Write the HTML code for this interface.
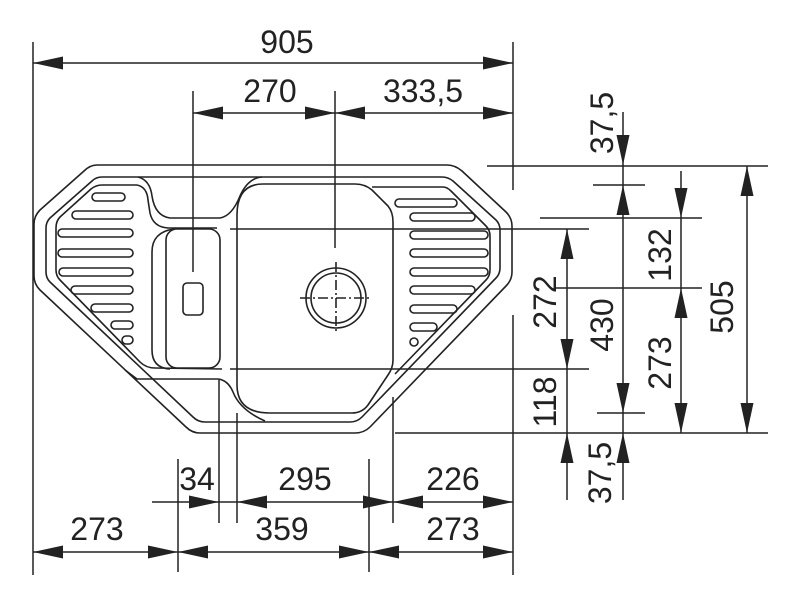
<!DOCTYPE html>
<html><head><meta charset="utf-8"><style>
html,body{margin:0;padding:0;background:#fff;}
svg{display:block;}
text{font-family:"Liberation Sans",Arial,sans-serif;font-size:32px;fill:#222;}
</style></head><body>
<svg width="793" height="600" viewBox="0 0 793 600" xmlns="http://www.w3.org/2000/svg">
<g fill="none" stroke="#222" stroke-width="1.6" stroke-linejoin="round">
<path d="M97,165 L447,165 Q455,165 462,171 L506,212 Q512,218 512,226 L512,272 Q512,280 506,286 L370,427 Q364,433 355,433 L200,433 Q192,433 186,427 L40,290 Q34,284 34,276 L34,224 Q34,216 40,210 L84,171 Q90,165 97,165 Z"/>
<path d="M102,177 L442,177 Q448,177 453,181 L496,220 Q500,224 500,230 L500,268 Q500,274 496,278 L362,417 Q357,422 350,422 L205,422 Q198,422 193,417 L50,282 Q46,278 46,272 L46,228 Q46,222 50,218 L92,181 Q96,177 102,177 Z"/>
<path d="M138,177 Q150,180 152,196 Q155,216 170,218 L220,218 Q232,216 240,196 Q248,178 262,177"/>
<path d="M137,185 L102,185 Q96,185 91,189 L60,217 Q56,221 56,228 L56,270 Q56,276 60,280 L140,362 Q146,368 155,368 L222,369"/>
<path d="M137,185 Q147,187 148,200 L150,213 Q153,227 168,228 L217,228"/>
<path d="M125,370 L137,379 L218,379 Q228,380 233,392 Q240,410 265,421"/>
<rect x="166" y="229" width="54" height="139" rx="11"/>
<path d="M174,229 Q152,232 152,252 L152,350 Q152,368 170,369"/>
<rect x="183" y="283" width="20" height="32" rx="4"/>
<path d="M263,184 L355,184 Q365,184 372,190 L388,206 Q393,212 393,222 L393,360 Q393,368 388,375 L368,405 Q362,413 352,413 L270,413 Q237,413 237,385 L237,215 Q237,184 263,184 Z"/>
<path d="M372,187 L443,187 Q447,187 451,191 L486,226 Q490,230 490,236 L490,270 Q490,276 486,280 L395,374"/>
<circle cx="336" cy="298" r="30"/>
<circle cx="336" cy="298" r="25"/>
<path d="M300,298 H372 M336,262 V334" stroke-dasharray="10,3,2,3"/>
<rect x="92" y="193" width="33" height="8" rx="4"/>
<rect x="72" y="211" width="61" height="8" rx="4"/>
<rect x="58" y="229" width="75" height="8" rx="4"/>
<rect x="58" y="249" width="75" height="8" rx="4"/>
<rect x="59" y="268" width="74" height="8" rx="4"/>
<rect x="71" y="286" width="62" height="8" rx="4"/>
<rect x="91" y="304" width="42" height="8" rx="4"/>
<rect x="111" y="321" width="22" height="8" rx="4"/>
<rect x="122" y="336" width="11" height="8" rx="4"/>
<rect x="395" y="199" width="62" height="8" rx="4"/>
<rect x="410" y="213" width="65" height="8" rx="4"/>
<rect x="410" y="231" width="78" height="8" rx="4"/>
<rect x="410" y="249" width="78" height="8" rx="4"/>
<rect x="410" y="268" width="78" height="8" rx="4"/>
<rect x="410" y="286" width="65" height="8" rx="4"/>
<rect x="410" y="305" width="47" height="8" rx="4"/>
<rect x="410" y="323" width="27" height="8" rx="4"/>
<rect x="410" y="338" width="8" height="8" rx="4"/>
</g>
<g stroke="#222" stroke-width="1.5" fill="none">
<path d="M33,42 V575 M513,42 V190 M513,315 V575 M193,91 V272 M335,91 V248"/>
<path d="M33,63 H513 M193,113 H513"/>
<path d="M487,166 H768 M593,185 H645 M540,218 H702 M230,229 H589 M555,288 H702 M230,369 H589 M597,413 H645 M395,433 H768"/>
<path d="M567,229 V500 M623,112 V500 M681,171 V433 M747,166 V433"/>
<path d="M178,459 V572 M219,380 V523 M237,413 V523 M369,459 V572 M393,397 V523"/>
<path d="M152,502 H513 M33,552 H513"/>
</g>
<g fill="#222">
<polygon points="33,63 63,56.5 63,69.5"/>
<polygon points="513,63 483,56.5 483,69.5"/>
<polygon points="193,113 223,106.5 223,119.5"/>
<polygon points="335,113 305,106.5 305,119.5"/>
<polygon points="335,113 365,106.5 365,119.5"/>
<polygon points="513,113 483,106.5 483,119.5"/>
<polygon points="219,502 189,495.5 189,508.5"/>
<polygon points="237,502 267,495.5 267,508.5"/>
<polygon points="393,502 363,495.5 363,508.5"/>
<polygon points="393,502 423,495.5 423,508.5"/>
<polygon points="513,502 483,495.5 483,508.5"/>
<polygon points="33,552 63,545.5 63,558.5"/>
<polygon points="178,552 148,545.5 148,558.5"/>
<polygon points="178,552 208,545.5 208,558.5"/>
<polygon points="369,552 339,545.5 339,558.5"/>
<polygon points="369,552 399,545.5 399,558.5"/>
<polygon points="513,552 483,545.5 483,558.5"/>
<polygon points="567,229 560.5,259 573.5,259"/>
<polygon points="567,369 560.5,339 573.5,339"/>
<polygon points="567,433 560.5,463 573.5,463"/>
<polygon points="623,165 616.5,135 629.5,135"/>
<polygon points="623,185 616.5,215 629.5,215"/>
<polygon points="623,413 616.5,383 629.5,383"/>
<polygon points="623,433 616.5,463 629.5,463"/>
<polygon points="681,218 674.5,188 687.5,188"/>
<polygon points="681,288 674.5,318 687.5,318"/>
<polygon points="681,433 674.5,403 687.5,403"/>
<polygon points="747,166 740.5,196 753.5,196"/>
<polygon points="747,433 740.5,403 753.5,403"/>
</g>
<g text-anchor="middle">
<text x="287" y="53">905</text>
<text x="270" y="102">270</text>
<text x="423" y="102">333,5</text>
<text x="197" y="490">34</text>
<text x="305" y="490">295</text>
<text x="453" y="490">226</text>
<text x="97" y="540">273</text>
<text x="282" y="540">359</text>
<text x="453" y="540">273</text>
</g>
<g text-anchor="middle" dominant-baseline="central">
<text transform="translate(602,123) rotate(-90)">37,5</text>
<text transform="translate(545,302) rotate(-90)">272</text>
<text transform="translate(602,325) rotate(-90)">430</text>
<text transform="translate(660,255) rotate(-90)">132</text>
<text transform="translate(660,363) rotate(-90)">273</text>
<text transform="translate(722,307) rotate(-90)">505</text>
<text transform="translate(545,402) rotate(-90)">118</text>
<text transform="translate(600,473) rotate(-90)">37,5</text>
</g>
</svg>
</body></html>
